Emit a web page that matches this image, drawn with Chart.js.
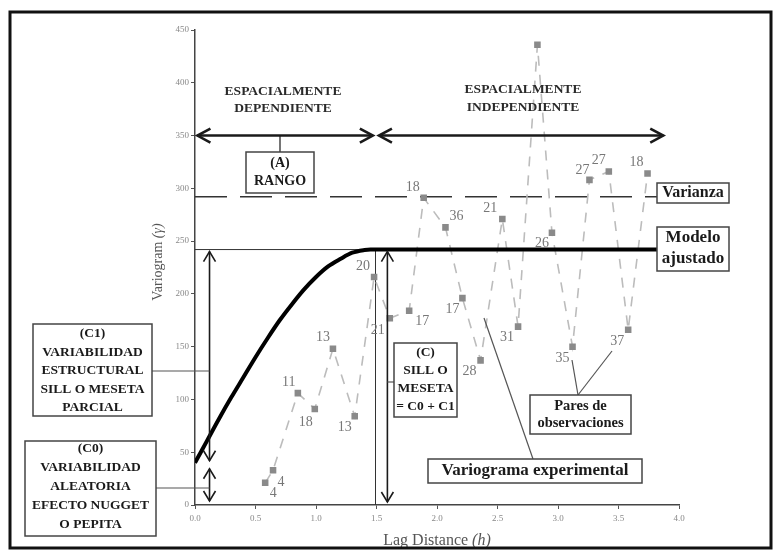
<!DOCTYPE html>
<html>
<head>
<meta charset="utf-8">
<script src="https://cdn.jsdelivr.net/npm/chart.js@4.4.0/dist/chart.umd.min.js"></script>
<style>
  html, body { margin: 0; padding: 0; background: #fff; }
  canvas { display: block; }
</style>
</head>
<body>
<canvas id="chart" width="774" height="552"></canvas>
<script>
// experimental variogram: lag distance, semivariance, number of pairs
const lagH = [0.58, 0.645, 0.85, 0.99, 1.14, 1.32, 1.48, 1.61, 1.77, 1.89, 2.07, 2.21, 2.36, 2.54, 2.67, 2.83, 2.95, 3.12, 3.26, 3.42, 3.58, 3.74]
const gammaExp = [21, 33, 106, 91, 148, 84, 216, 177, 184, 291, 263, 196, 137, 271, 169, 436, 258, 150, 308, 316, 166, 314]
const pairCounts = ['4', '4', '11', '18', '13', '13', '20', '21', '17', '18', '36', '17', '28', '21', '31', '', '26', '35', '27', '27', '37', '18']

// fitted model
const modelH = [0, 0.1, 0.2, 0.3, 0.4, 0.5, 0.6, 0.7, 0.8, 0.9, 1.0, 1.1, 1.2, 1.3, 1.4, 1.45, 3.82]
const modelGamma = [40, 61, 82, 102, 121, 140, 158, 175, 190, 204, 216, 226, 233, 239, 241.5, 242, 242]

// reference levels
const nugget = 40
const sill = 242
const variance = 292
const rangeA = 1.5

// axis ticks
const xTicks = [0, 0.5, 1, 1.5, 2, 2.5, 3, 3.5, 4]
const yTicks = [0, 50, 100, 150, 200, 250, 300, 350, 400, 450]

// where each pair-count label sits relative to its point (px)
const labelOffsets = [[8, 10], [8, 12], [-9, -11], [-9, 13], [-10, -11], [-10, 11], [-11, -11], [-12, 12], [13, 11], [-11, -11], [11, -11],
  [-10, 11], [-11, 11], [-12, -11], [-11, 11], [0, 0], [-10, 11], [-10, 12], [-7, -10], [-10, -11], [-11, 12], [-11, -11]]

const SERIF = '"Liberation Serif", "DejaVu Serif", serif'

function seg (ctx, x1, y1, x2, y2) {
  ctx.beginPath(); ctx.moveTo(x1, y1); ctx.lineTo(x2, y2); ctx.stroke()
}

function chevron (ctx, x, y, dx, dy, len, half) {
  const bx = x - dx * len, by = y - dy * len
  ctx.beginPath()
  ctx.moveTo(bx - dy * half, by + dx * half)
  ctx.lineTo(x, y)
  ctx.lineTo(bx + dy * half, by - dx * half)
  ctx.stroke()
}

function arrow (ctx, x1, y1, x2, y2, len, half) {
  seg(ctx, x1, y1, x2, y2)
  const d = Math.hypot(x2 - x1, y2 - y1), ux = (x2 - x1) / d, uy = (y2 - y1) / d
  chevron(ctx, x2, y2, ux, uy, len, half)
  chevron(ctx, x1, y1, -ux, -uy, len, half)
}

function box (ctx, x, y, w, h, lines, font, lineH, firstY) {
  ctx.fillStyle = '#fff'
  ctx.fillRect(x, y, w, h)
  ctx.strokeStyle = '#444'; ctx.lineWidth = 1.5
  ctx.strokeRect(x, y, w, h)
  ctx.fillStyle = '#1a1a1a'; ctx.font = font
  ctx.textAlign = 'center'; ctx.textBaseline = 'middle'
  lines.forEach((t, i) => ctx.fillText(t, x + w / 2, firstY + i * lineH))
}

const overlay = {
  id: 'overlay',
  beforeDatasetsDraw (chart) {
    const { ctx, scales: { x, y } } = chart
    ctx.save()
    // varianza (dashed)
    ctx.strokeStyle = '#333'; ctx.lineWidth = 1.6; ctx.setLineDash([32, 13])
    seg(ctx, x.left, y.getPixelForValue(variance), 657, y.getPixelForValue(variance))
    ctx.setLineDash([])
    // thin sill line from the axis to the range
    ctx.strokeStyle = '#333'; ctx.lineWidth = 1
    seg(ctx, x.left, y.getPixelForValue(sill), x.getPixelForValue(1.45), y.getPixelForValue(sill))
    // range marker
    seg(ctx, x.getPixelForValue(rangeA) - 1, y.getPixelForValue(sill), x.getPixelForValue(rangeA) - 1, y.bottom)
    ctx.restore()
  },
  afterDraw (chart) {
    const { ctx, scales: { x, y } } = chart
    ctx.save()

    // pair count labels
    ctx.fillStyle = '#777'; ctx.font = '14px ' + SERIF
    ctx.textAlign = 'center'; ctx.textBaseline = 'middle'
    lagH.forEach((h, i) => {
      if (!pairCounts[i]) return
      ctx.fillText(pairCounts[i], x.getPixelForValue(h) + labelOffsets[i][0], y.getPixelForValue(gammaExp[i]) + labelOffsets[i][1])
    })

    // horizontal arrows at 350
    const yA = y.getPixelForValue(350)
    ctx.strokeStyle = '#1a1a1a'; ctx.lineWidth = 2.6
    arrow(ctx, x.getPixelForValue(0.02), yA, x.getPixelForValue(1.47), yA, 13, 7)
    arrow(ctx, x.getPixelForValue(1.52), yA, x.getPixelForValue(3.87), yA, 13, 7)
    ctx.lineWidth = 1.2
    seg(ctx, 280, yA, 280, 152)

    // vertical arrows for C1, C0 and C
    ctx.lineWidth = 1.6
    const xC = x.getPixelForValue(0.12)
    arrow(ctx, xC, y.getPixelForValue(sill) + 2, xC, y.getPixelForValue(nugget) - 2, 10, 6)
    arrow(ctx, xC, y.getPixelForValue(nugget) + 6, xC, y.getPixelForValue(0) - 4, 10, 6)
    const xS = x.getPixelForValue(1.59)
    arrow(ctx, xS, y.getPixelForValue(sill) + 2, xS, y.getPixelForValue(0) - 3, 10, 6)

    // connectors
    ctx.lineWidth = 1.2; ctx.strokeStyle = '#555'
    seg(ctx, 152, 371, xC, 371)
    seg(ctx, 156, 488, xC, 488)
    seg(ctx, 394, 382, xS, 382)
    seg(ctx, 578, 395, 572, 360)
    seg(ctx, 578, 395, 612, 351)
    seg(ctx, 533, 459, 484, 318)

    // section titles
    ctx.fillStyle = '#2a2a2a'; ctx.font = 'bold 13.5px ' + SERIF
    ctx.textAlign = 'center'; ctx.textBaseline = 'middle'
    ctx.fillText('ESPACIALMENTE', 283, 92)
    ctx.fillText('DEPENDIENTE', 283, 109)
    ctx.fillText('ESPACIALMENTE', 523, 90)
    ctx.fillText('INDEPENDIENTE', 523, 108)

    // boxes
    box(ctx, 246, 152, 68, 41, ['(A)', 'RANGO'], 'bold 14px ' + SERIF, 18, 163)
    box(ctx, 33, 324, 119, 92, ['(C1)', 'VARIABILIDAD', 'ESTRUCTURAL', 'SILL O MESETA', 'PARCIAL'], 'bold 13.5px ' + SERIF, 18.5, 334)
    box(ctx, 25, 441, 131, 95, ['(C0)', 'VARIABILIDAD', 'ALEATORIA', 'EFECTO NUGGET', 'O PEPITA'], 'bold 13.5px ' + SERIF, 18.8, 449)
    box(ctx, 394, 343, 63, 74, ['(C)', 'SILL O', 'MESETA', '= C0 + C1'], 'bold 13.5px ' + SERIF, 18, 353)
    box(ctx, 657, 183, 72, 20, ['Varianza'], 'bold 16px ' + SERIF, 18, 193)
    box(ctx, 657, 227, 72, 44, ['Modelo', 'ajustado'], 'bold 17px ' + SERIF, 21, 238)
    box(ctx, 530, 395, 101, 39, ['Pares de', 'observaciones'], 'bold 14.5px ' + SERIF, 17, 406)
    box(ctx, 428, 459, 214, 24, ['Variograma experimental'], 'bold 17px ' + SERIF, 18, 471)

    // axis titles
    ctx.fillStyle = '#555'; ctx.textBaseline = 'middle'
    ctx.font = '16px ' + SERIF
    const t1 = 'Lag Distance ', t2 = '(h)'
    const w1 = ctx.measureText(t1).width
    ctx.font = 'italic 16px ' + SERIF
    const w2 = ctx.measureText(t2).width
    const sx = 437 - (w1 + w2) / 2
    ctx.textAlign = 'left'
    ctx.font = '16px ' + SERIF
    ctx.fillText(t1, sx, 541)
    ctx.font = 'italic 16px ' + SERIF
    ctx.fillText(t2, sx + w1, 541)

    ctx.save()
    ctx.translate(158, 262); ctx.rotate(-Math.PI / 2)
    ctx.font = '14px ' + SERIF
    const v1 = 'Variogram ', v2 = '(γ)'
    const a1 = ctx.measureText(v1).width
    ctx.font = 'italic 14px ' + SERIF
    const a2 = ctx.measureText(v2).width
    ctx.font = '14px ' + SERIF
    ctx.fillText(v1, -(a1 + a2) / 2, 0)
    ctx.font = 'italic 14px ' + SERIF
    ctx.fillText(v2, -(a1 + a2) / 2 + a1, 0)
    ctx.restore()

    // outer frame
    ctx.strokeStyle = '#111'; ctx.lineWidth = 3
    ctx.strokeRect(10, 12, 761, 536)
    ctx.restore()
  }
}

new Chart(document.getElementById('chart'), {
  type: 'line',
  data: {
    datasets: [
      {
        label: 'Modelo ajustado',
        data: modelH.map((h, i) => ({ x: h, y: modelGamma[i] })),
        borderColor: '#000',
        borderWidth: 4,
        pointRadius: 0,
        cubicInterpolationMode: 'monotone',
        order: 0
      },
      {
        label: 'Variograma experimental',
        data: lagH.map((h, i) => ({ x: h, y: gammaExp[i] })),
        borderColor: '#bcbcbc',
        borderWidth: 1.6,
        borderDash: [10, 9],
        pointStyle: 'rect',
        pointRadius: 3.5,
        pointBackgroundColor: '#8a8a8a',
        pointBorderColor: '#8a8a8a',
        order: 1
      }
    ]
  },
  options: {
    responsive: false,
    animation: false,
    devicePixelRatio: 1,
    layout: { padding: { left: 165, right: 95, top: 30, bottom: 17 } },
    plugins: { legend: { display: false }, tooltip: { enabled: false } },
    scales: {
      x: {
        type: 'linear', min: 0, max: 4,
        afterBuildTicks: s => { s.ticks = xTicks.map(v => ({ value: v })) },
        afterFit: s => { s.height = 30 },
        ticks: { callback: v => Number(v).toFixed(1), font: { family: SERIF, size: 9 }, color: '#888', padding: 4, maxRotation: 0 },
        grid: { drawOnChartArea: false, tickLength: 4, color: '#555' },
        border: { color: '#444', width: 1.5 }
      },
      y: {
        min: 0, max: 450,
        afterBuildTicks: s => { s.ticks = yTicks.map(v => ({ value: v })) },
        afterFit: s => { s.width = 30 },
        ticks: { font: { family: SERIF, size: 9 }, color: '#888', padding: 2 },
        grid: { drawOnChartArea: false, tickLength: 4, color: '#555' },
        border: { color: '#444', width: 1.5 }
      }
    }
  },
  plugins: [overlay]
})
</script>
</body>
</html>
